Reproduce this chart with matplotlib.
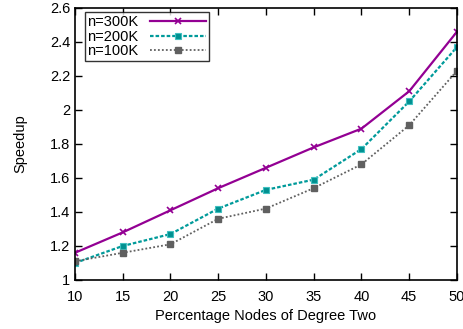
import matplotlib
matplotlib.use("Agg")
import matplotlib.pyplot as plt

pct = [10, 15, 20, 25, 30, 35, 40, 45, 50]
n300k = [1.16, 1.28, 1.41, 1.54, 1.66, 1.78, 1.89, 2.11, 2.46]
n200k = [1.10, 1.20, 1.27, 1.42, 1.53, 1.59, 1.77, 2.05, 2.37]
n100k = [1.11, 1.16, 1.21, 1.36, 1.42, 1.54, 1.68, 1.91, 2.23]
yticks = [1, 1.2, 1.4, 1.6, 1.8, 2, 2.2, 2.4, 2.6]
ylabels = ["1", "1.2", "1.4", "1.6", "1.8", "2", "2.2", "2.4", "2.6"]

plt.rcParams["font.family"] = ["Liberation Sans", "DejaVu Sans"]

fig = plt.figure(figsize=(4.63, 3.29), dpi=100)
ax = fig.add_axes([0.162, 0.149, 0.825, 0.827])

ax.plot(pct, n300k, color="#930093", lw=1.6, ls="-", marker="x", ms=4, mew=1.2,
        label="n=300K")
ax.plot(pct, n200k, color="#009a9a", lw=1.6, ls=(0, (1.6, 0.9)), marker="s", ms=5,
        mfc="#009090", mec="#40c0c0", mew=0.8, label="n=200K")
ax.plot(pct, n100k, color="#606060", lw=1.3, ls=(0, (1, 1.2)), marker="s", ms=4,
        label="n=100K")

ax.set_xlim(10, 50)
ax.set_ylim(1, 2.6)
ax.set_xticks(pct)
ax.set_yticks(yticks)
ax.set_yticklabels(ylabels)
ax.tick_params(direction="in", top=True, right=True, labelsize=10.5, length=5, width=1)
ax.tick_params(axis="x", pad=7)
for s in ax.spines.values():
    s.set_linewidth(1.2)

ax.set_xlabel("Percentage Nodes of Degree Two", fontsize=10.5, labelpad=4)
ax.set_ylabel("Speedup", fontsize=10.5, labelpad=16)

leg = ax.legend(loc="upper left", bbox_to_anchor=(0.025, 0.985), markerfirst=False,
                frameon=True, fancybox=False, edgecolor="black", fontsize=10.5,
                handlelength=3.8, borderpad=0.2, labelspacing=0.05, handletextpad=0.8,
                borderaxespad=0)
leg.get_frame().set_linewidth(1)

fig.savefig("out.png", dpi=100)
